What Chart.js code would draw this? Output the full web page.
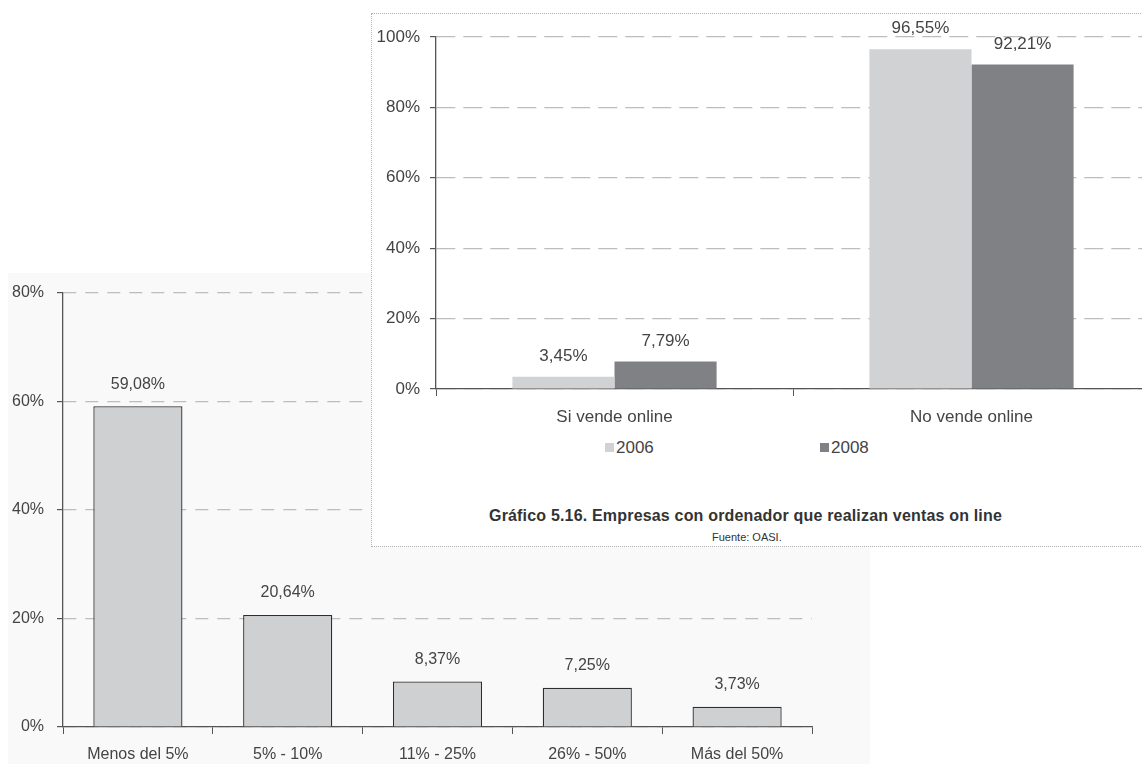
<!DOCTYPE html>
<html>
<head>
<meta charset="utf-8">
<script src="https://cdn.jsdelivr.net/npm/chart.js@4"></script>
<style>
  html, body { margin: 0; padding: 0; }
  body { width: 1142px; height: 764px; overflow: hidden; position: relative; background: #fff; font-family: 'Liberation Sans', sans-serif; }
  #backPanel { position: absolute; left: 8px; top: 273px; width: 862px; height: 491px; background: #f9f9f9; }
  #backChart { position: absolute; left: 9px; top: 270px; }
  #frontPanel { position: absolute; left: 371px; top: 13px; width: 800px; height: 532px; background: #fff; border: 1px dotted #b0b0b0; }
  #frontChart { position: absolute; left: 371px; top: 13px; }
  .legend { position: absolute; top: 438px; font-size: 17px; color: #444; line-height: 20px; }
  .legend i { display: inline-block; width: 9px; height: 9px; margin-right: 2px; vertical-align: 1px; }
  #title { position: absolute; left: 489px; top: 507px; font-size: 16px; letter-spacing: 0.18px; font-weight: bold; color: #333; white-space: nowrap; }
  #source { position: absolute; left: 712px; top: 531px; font-size: 11px; color: #333; white-space: nowrap; }
</style>
</head>
<body>
<div id="backPanel"></div>
<canvas id="backChart" width="861" height="494"></canvas>
<div id="frontPanel"></div>
<canvas id="frontChart" width="800" height="420"></canvas>
<div class="legend" style="left:605px"><i style="background:#d1d2d4"></i>2006</div>
<div class="legend" style="left:820px"><i style="background:#808184"></i>2008</div>
<div id="title">Gráfico 5.16. Empresas con ordenador que realizan ventas on line</div>
<div id="source">Fuente: OASI.</div>
<script>
// back chart: share of sales online
const backCategories = ['Menos del 5%', '5% - 10%', '11% - 25%', '26% - 50%', 'Más del 50%']
const backValues = [59.08, 20.64, 8.37, 7.25, 3.73]
const backTicks = [0, 20, 40, 60, 80]

// front chart: companies selling online
const frontCategories = ['Si vende online', 'No vende online']
const values2006 = [3.45, 96.55]
const values2008 = [7.79, 92.21]
const frontTicks = [0, 20, 40, 60, 80, 100]

Chart.defaults.font.family = "'Liberation Sans', sans-serif"
Chart.defaults.color = '#444'

const fmt = (v) => v.toFixed(2).replace('.', ',') + '%'

const valueLabels = {
  id: 'valueLabels',
  afterDatasetsDraw (chart, args, opts) {
    const ctx = chart.ctx
    ctx.save()
    ctx.font = opts.font
    ctx.fillStyle = opts.color
    ctx.textAlign = 'center'
    ctx.textBaseline = 'bottom'
    chart.data.datasets.forEach((ds, i) => {
      chart.getDatasetMeta(i).data.forEach((bar, j) => {
        ctx.fillText(fmt(ds.data[j]), bar.x, bar.y - opts.offset)
      })
    })
    ctx.restore()
  }
}

function yAxis (ticks, width, dash, size, pad) {
  return {
    min: ticks[0],
    max: ticks[ticks.length - 1],
    afterBuildTicks: (scale) => { scale.ticks = ticks.map(v => ({ value: v })) },
    afterFit: (scale) => { scale.width = width },
    ticks: { callback: v => v + '%', font: { size: size }, padding: pad, color: '#444' },
    grid: { color: '#bdbdbd', lineWidth: 1.2, tickColor: '#555', tickLength: 6, tickBorderDash: [] },
    border: { color: '#555', width: 1.3, dash: dash }
  }
}

function xAxis (height, size) {
  return {
    afterFit: (scale) => { scale.height = height },
    ticks: { font: { size: size }, padding: 11, color: '#444' },
    grid: { drawOnChartArea: false, color: '#555', tickLength: 7, offset: true },
    border: { color: '#555', width: 1.3 }
  }
}

new Chart(document.getElementById('backChart'), {
  type: 'bar',
  data: {
    labels: backCategories,
    datasets: [{
      data: backValues,
      backgroundColor: '#cfd0d2',
      borderColor: '#2e2e2e',
      borderWidth: 1.3,
      categoryPercentage: 1,
      barPercentage: 0.595
    }]
  },
  options: {
    responsive: false,
    animation: false,
    layout: { padding: { top: 16, right: 58, bottom: 0, left: 0 } },
    plugins: {
      legend: { display: false },
      tooltip: { enabled: false },
      valueLabels: { font: "16px 'Liberation Sans'", color: '#444', offset: 14 }
    },
    scales: {
      x: xAxis(37, 16),
      y: yAxis(backTicks, 54, [13, 9], 16, 13)
    }
  },
  plugins: [valueLabels]
})

new Chart(document.getElementById('frontChart'), {
  type: 'bar',
  data: {
    labels: frontCategories,
    datasets: [
      { label: '2006', data: values2006, backgroundColor: '#d1d2d4', categoryPercentage: 0.572, barPercentage: 1 },
      { label: '2008', data: values2008, backgroundColor: '#808184', categoryPercentage: 0.572, barPercentage: 1 }
    ]
  },
  options: {
    responsive: false,
    animation: false,
    layout: { padding: { top: 24, right: 21, bottom: 0, left: 0 } },
    plugins: {
      legend: { display: false },
      tooltip: { enabled: false },
      valueLabels: { font: "17px 'Liberation Sans'", color: '#444', offset: 12 }
    },
    scales: {
      x: xAxis(44, 17),
      y: yAxis(frontTicks, 65, [19, 8], 17, 10)
    }
  },
  plugins: [valueLabels]
})
</script>
</body>
</html>
